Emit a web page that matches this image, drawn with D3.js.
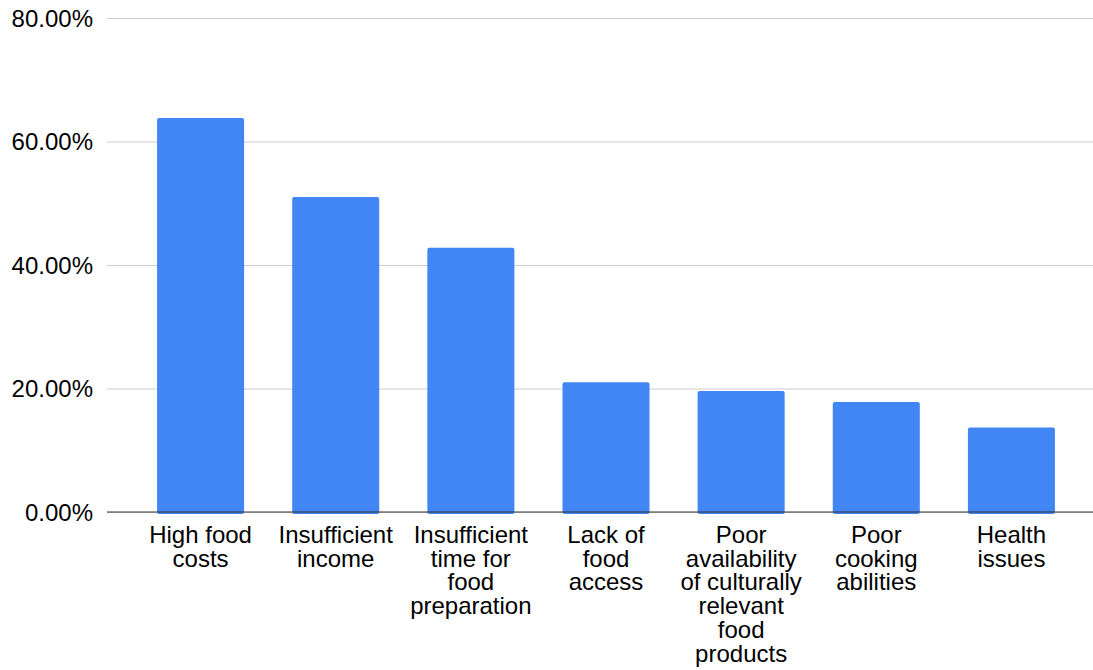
<!DOCTYPE html>
<html>
<head>
<meta charset="utf-8">
<script src="https://cdn.jsdelivr.net/npm/d3@7"></script>
<style>
  html, body { margin: 0; padding: 0; background: #fff; }
  svg { display: block; }
  text { font-family: "Liberation Sans", Arial, Helvetica, sans-serif; }
</style>
</head>
<body>
<svg id="chart" width="1093" height="670"></svg>
<script>
const categories = [
  ["High food", "costs"],
  ["Insufficient", "income"],
  ["Insufficient", "time for", "food", "preparation"],
  ["Lack of", "food", "access"],
  ["Poor", "availability", "of culturally", "relevant", "food", "products"],
  ["Poor", "cooking", "abilities"],
  ["Health", "issues"]
];
const values = [63.8, 51.0, 42.8, 21.0, 19.6, 17.8, 13.7];
const yTicks = [0, 20, 40, 60, 80];

const svg = d3.select("#chart");
const gridLeft = 107, gridRight = 1093;
const yTop = 18, yBottom = 512;

const x = d3.scaleBand()
  .domain(d3.range(categories.length))
  .range([133, 1079])
  .paddingInner(0.356)
  .paddingOuter(0.178);

const y = d3.scaleLinear().domain([0, 80]).range([yBottom, yTop]);

// gridlines + y tick labels
const yAxis = d3.axisLeft(y)
  .tickValues(yTicks)
  .tickSize(-(gridRight - gridLeft))
  .tickPadding(14)
  .tickFormat(d => d3.format(".2f")(d) + "%");

const gy = svg.append("g")
  .attr("transform", `translate(${gridLeft},0)`)
  .call(yAxis);
gy.select(".domain").remove();
gy.selectAll(".tick line").attr("stroke", "#cccccc").attr("stroke-width", 1);
gy.selectAll(".tick text")
  .attr("font-size", 24)
  .attr("fill", "#000")
  .attr("dy", "0.35em")
  .style("font-family", "'Liberation Sans', Arial, sans-serif");

// bars
svg.append("g").selectAll("rect")
  .data(values)
  .join("rect")
  .attr("x", (d, i) => x(i))
  .attr("width", x.bandwidth())
  .attr("y", d => y(d))
  .attr("height", d => y(0) - y(d) + 2)
  .attr("rx", 2)
  .attr("fill", "#4285f4");

// baseline
svg.append("line")
  .attr("x1", gridLeft).attr("x2", gridRight)
  .attr("y1", y(0)).attr("y2", y(0))
  .attr("stroke", "#333333").attr("stroke-width", 1.2);

// x labels
const xl = svg.append("g").selectAll("text")
  .data(categories)
  .join("text")
  .attr("x", (d, i) => x(i) + x.bandwidth() / 2)
  .attr("y", 543)
  .attr("text-anchor", "middle")
  .attr("font-size", 24)
  .attr("fill", "#000");
xl.each(function(lines) {
  const t = d3.select(this);
  lines.forEach((ln, j) => {
    t.append("tspan")
      .attr("x", t.attr("x"))
      .attr("dy", j === 0 ? 0 : 23.7)
      .text(ln);
  });
});
</script>
</body>
</html>
